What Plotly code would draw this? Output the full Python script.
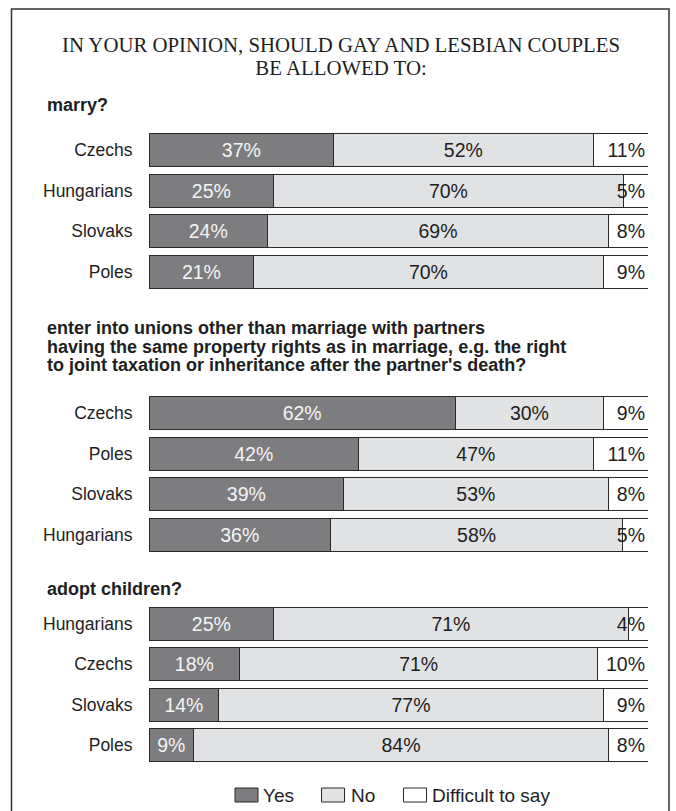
import plotly.graph_objects as go

# ---- data -------------------------------------------------------------
marry_groups = ["Czechs", "Hungarians", "Slovaks", "Poles"]
marry_yes = [37, 25, 24, 21]
marry_no = [52, 70, 69, 70]
marry_dk = [11, 5, 8, 9]

union_groups = ["Czechs", "Poles", "Slovaks", "Hungarians"]
union_yes = [62, 42, 39, 36]
union_no = [30, 47, 53, 58]
union_dk = [9, 11, 8, 5]

adopt_groups = ["Hungarians", "Czechs", "Slovaks", "Poles"]
adopt_yes = [25, 18, 14, 9]
adopt_no = [71, 71, 77, 84]
adopt_dk = [4, 10, 9, 8]

answer_names = ["Yes", "No", "Difficult to say"]

main_title = ["IN YOUR OPINION, SHOULD GAY AND LESBIAN COUPLES", "BE ALLOWED TO:"]
question_lines = [
    ["marry?"],
    ["enter into unions other than marriage with partners",
     "having the same property rights as in marriage, e.g. the right",
     "to joint taxation or inheritance after the partner's death?"],
    ["adopt children?"],
]

# ---- geometry / style -------------------------------------------------
W, H = 676, 811
ML, MR = 149, 28
PW = W - ML - MR

SANS = "Liberation Sans, Arial, Helvetica, sans-serif"
SERIF = "Liberation Serif, Times New Roman, serif"
FILL = ["#7d7d80", "#e1e2e4", "#ffffff"]
EDGE = "#2a2a2a"
TEXT = ["#f4f4f4", "#1e1e1e", "#1e1e1e"]
ANCHOR = ["middle", "middle", "end"]


def py(px):
    return 1 - px / H


def pxx(px):
    return (px - ML) / PW


# vertical extent (pixels) of each block of bars
blocks = [(129.75, 291.75), (393.0, 555.0), (603.5, 765.5)]
sections = [
    (marry_groups, [marry_yes, marry_no, marry_dk]),
    (union_groups, [union_yes, union_no, union_dk]),
    (adopt_groups, [adopt_yes, adopt_no, adopt_dk]),
]

fig = go.Figure()
layout_axes = {}
for i, ((groups, series), (top, bot)) in enumerate(zip(sections, blocks)):
    n = i + 1
    xa = "x" if n == 1 else f"x{n}"
    ya = "y" if n == 1 else f"y{n}"
    for k, vals in enumerate(series):
        fig.add_trace(go.Bar(
            orientation="h",
            y=groups,
            x=vals,
            name=answer_names[k],
            xaxis=xa,
            yaxis=ya,
            marker=dict(color=FILL[k], line=dict(color=EDGE, width=1)),
            text=[f"{v}%" for v in vals],
            texttemplate="%{text}",
            textposition="inside",
            insidetextanchor=ANCHOR[k],
            textangle=0,
            constraintext="none",
            textfont=dict(family=SANS, size=19.5, color=TEXT[k]),
            showlegend=False,
            hoverinfo="skip",
        ))
    xkey = "xaxis" if n == 1 else f"xaxis{n}"
    ykey = "yaxis" if n == 1 else f"yaxis{n}"
    layout_axes[xkey] = dict(range=[0, 100], domain=[0, 1], anchor=ya,
                             visible=False, fixedrange=True)
    layout_axes[ykey] = dict(
        domain=[py(bot), py(top)], anchor=xa,
        type="category", categoryorder="array", categoryarray=groups,
        range=[3.5, -0.5],
        showline=False, showgrid=False, zeroline=False,
        ticks="outside", ticklen=12, tickcolor="rgba(0,0,0,0)",
        tickfont=dict(family=SANS, size=17.5, color="#1e1e1e"),
        fixedrange=True,
    )

annotations = []
# main heading: one text block, line pitch set by the smaller base size
annotations.append(dict(
    text="<br>".join(f'<span style="font-size:20.8px">{t}</span>' for t in main_title),
    xref="paper", yref="paper", x=pxx(341), y=py(56.5),
    xanchor="center", yanchor="middle", align="center", showarrow=False,
    font=dict(family=SERIF, size=17.8, color="#1e1e1e"),
))
# question headings
q_centres = [[105.5], [328.0, 346.5, 365.0], [589.0]]
for lines, centres in zip(question_lines, q_centres):
    for line, cy in zip(lines, centres):
        annotations.append(dict(
            text=f"<b>{line}</b>", xref="paper", yref="paper",
            x=pxx(45), y=py(cy), xanchor="left", yanchor="middle",
            showarrow=False, font=dict(family=SANS, size=18, color="#1e1e1e"),
        ))

# legend drawn as swatches with labels
shapes = []
legend_boxes = [(235, 258), (321.5, 344.5), (403.5, 426.5)]
legend_text_x = [261, 348.5, 430]
for k, ((x0, x1), tx) in enumerate(zip(legend_boxes, legend_text_x)):
    shapes.append(dict(
        type="rect", xref="paper", yref="paper",
        x0=pxx(x0), x1=pxx(x1), y0=py(802), y1=py(788),
        fillcolor=FILL[k], line=dict(color=EDGE, width=1),
    ))
    annotations.append(dict(
        text=answer_names[k], xref="paper", yref="paper",
        x=pxx(tx), y=py(795), xanchor="left", yanchor="middle",
        showarrow=False, font=dict(family=SANS, size=19, color="#1e1e1e"),
    ))

# outer frame (open at the bottom edge of the page)
shapes.append(dict(
    type="rect", xref="paper", yref="paper",
    x0=pxx(11.5), x1=pxx(669), y0=py(818), y1=py(9),
    line=dict(color="#333333", width=1.5), fillcolor="rgba(0,0,0,0)",
    layer="below",
))

fig.update_layout(
    width=W, height=H,
    margin=dict(l=ML, r=MR, t=0, b=0, pad=0),
    barmode="stack", barnorm="percent", bargap=0.185,
    paper_bgcolor="white", plot_bgcolor="white",
    annotations=annotations, shapes=shapes,
    showlegend=False,
    **layout_axes,
)

fig.write_html("out.html", config={"displayModeBar": False})
